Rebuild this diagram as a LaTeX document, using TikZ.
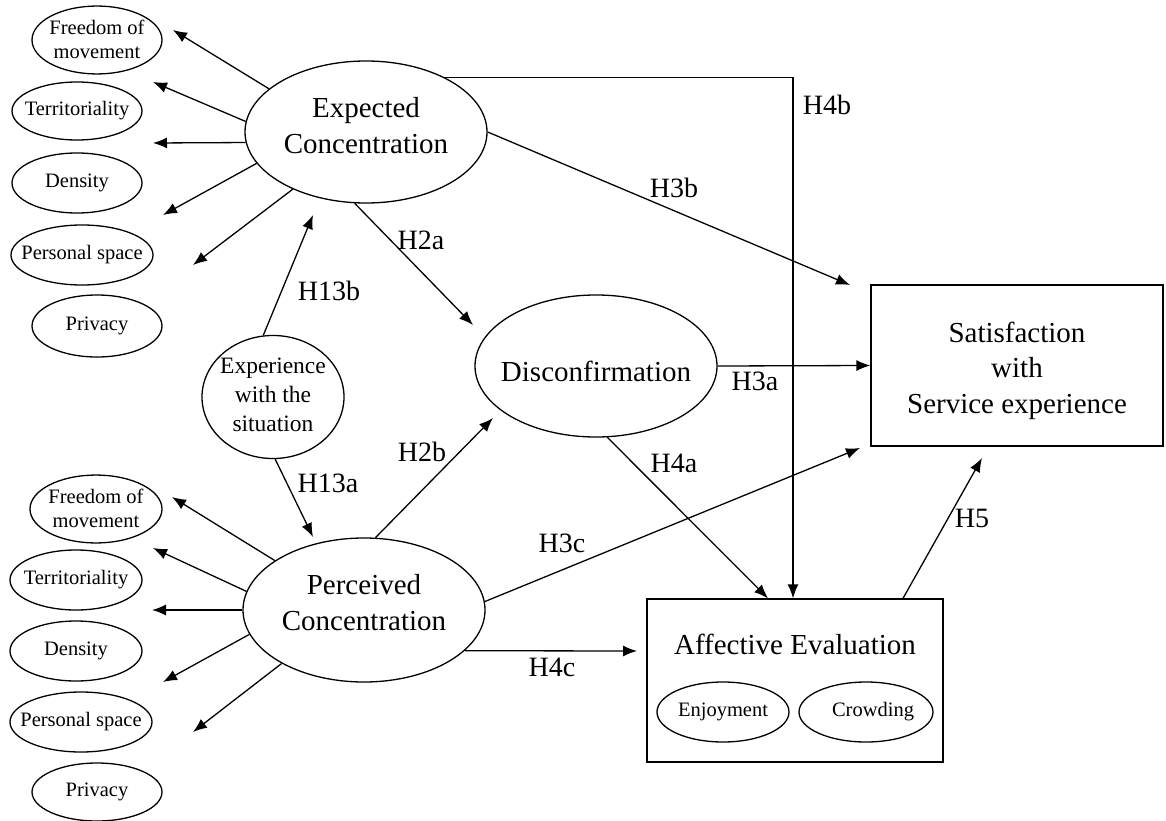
\documentclass[tikz,border=0pt]{standalone}
\usepackage{fontspec}
\setmainfont{Liberation Serif}
\usetikzlibrary{shapes.geometric,arrows.meta}
% centred multi-line text of zero width, optionally raised without changing its extent
\newcommand{\mlines}[2][0pt]{\makebox[0pt]{\raisebox{#1}[\height][\depth]{\begin{tabular}{@{}c@{}}#2\end{tabular}}}}
\begin{document}
\begin{tikzpicture}[x=1pt,y=-1pt,
  oval/.style={ellipse,draw,line width=1.3pt,inner sep=0pt},
  box/.style={rectangle,draw,line width=1.3pt,inner sep=0pt},
  bigfont/.style={font=\fontsize{29}{36}\selectfont},
  midfont/.style={font=\fontsize{23.5}{29}\selectfont},
  smallfont/.style={font=\fontsize{20.5}{24}\selectfont},
  hyp/.style={font=\fontsize{28}{32}\selectfont,inner sep=0pt},
  link/.style={line width=1.3pt,-{Latex[length=14pt,width=11pt]}}]
\useasboundingbox (0,0) rectangle (1166,821);

% dimension ellipses of the expected concentration
\node[oval,smallfont,minimum width=130pt,minimum height=60pt] (f1) at (97,40) {\mlines[-2pt]{Freedom of\\movement}};
\node[oval,smallfont,minimum width=130pt,minimum height=58pt] (t1) at (77,111) {\mlines{Territoriality}};
\node[oval,smallfont,minimum width=130pt,minimum height=60pt] (d1) at (77,183) {\mlines{Density}};
\node[oval,smallfont,minimum width=142pt,minimum height=60pt] (p1) at (82,255) {\mlines{Personal space}};
\node[oval,smallfont,minimum width=130pt,minimum height=62pt] (v1) at (97,326) {\mlines{Privacy}};

% dimension ellipses of the perceived concentration
\node[oval,smallfont,minimum width=132pt,minimum height=60pt] (f2) at (96,509) {\mlines[-2pt]{Freedom of\\movement}};
\node[oval,smallfont,minimum width=132pt,minimum height=60pt] (t2) at (76,580) {\mlines{Territoriality}};
\node[oval,smallfont,minimum width=132pt,minimum height=60pt] (d2) at (76,651) {\mlines{Density}};
\node[oval,smallfont,minimum width=142pt,minimum height=60pt] (p2) at (81,722) {\mlines{Personal space}};
\node[oval,smallfont,minimum width=130pt,minimum height=58pt] (v2) at (97,792) {\mlines{Privacy}};

% main constructs
\node[oval,bigfont,minimum width=242pt,minimum height=142pt] (ec) at (366,132) {\mlines[4pt]{Expected\\Concentration}};
\node[oval,bigfont,minimum width=242pt,minimum height=144pt] (pc) at (364,610) {\mlines[4.5pt]{Perceived\\Concentration}};
\node[oval,bigfont,minimum width=242pt,minimum height=142pt] (dc) at (596,366) {\mlines[-8pt]{Disconfirmation}};
\node[oval,midfont,minimum width=142pt,minimum height=120pt] (ex) at (273,397) {\mlines{Experience\\with the\\situation}};
\node[box,font=\fontsize{29}{35.5}\selectfont,minimum width=292pt,minimum height=161pt] (sat) at (1017,365.5) {\mlines[-5pt]{Satisfaction\\with\\Service experience}};
\node[box,bigfont,minimum width=296pt,minimum height=163pt] (aff) at (795,680.5) {\mlines[33pt]{Affective Evaluation}};
\node[oval,smallfont,minimum width=132pt,minimum height=60pt] (enj) at (723,712) {\mlines{Enjoyment}};
\node[oval,smallfont,minimum width=134pt,minimum height=60pt] (crw) at (866,712) {\mlines{\hspace*{14pt}Crowding}};

% free ends of the arrows
\coordinate (ta1) at (173,30);
\coordinate (ta2) at (153,82);
\coordinate (ta3) at (153,143);
\coordinate (ta4) at (163,215);
\coordinate (ta5) at (193,265);
\coordinate (tb1) at (172,497);
\coordinate (tb2) at (153,548);
\coordinate (tb3) at (152,610);
\coordinate (tb4) at (163,682);
\coordinate (tb5) at (193,732);
\coordinate (h13b) at (313,215);
\coordinate (h13a) at (313,537);
\coordinate (h2a) at (473,325);
\coordinate (h2b) at (493,418);
\coordinate (h3b) at (850,285);
\coordinate (h3c) at (860,448);
\coordinate (h4c) at (637,651);
\coordinate (h5) at (982,458);

% measurement arrows
\draw[link] (ec.156) -- (ta1);
\draw[link] (ec.175) -- (ta2);
\draw[link] (ec.185) -- (ta3);
\draw[link] (ec.196) -- (ta4);
\draw[link] (ec.218) -- (ta5);
\draw[link] (pc.151) -- (tb1);
\draw[link] (pc.171) -- (tb2);
\draw[link] (pc.180) -- (tb3);
\draw[link] (pc.192) -- (tb4);
\draw[link] (pc.213) -- (tb5);

% hypothesised paths
\draw[link] (ex.99) -- (h13b);
\draw[link] (ex.272) -- (h13a);
\draw[link] (ec.261) -- (h2a);
\draw[link] (pc.81) -- (h2b);
\draw[link] (ec.east) -- (h3b);
\draw[link] (dc.east) -- (sat.west);
\draw[link] (pc.4.7) -- (h3c);
\draw[link] (dc.279) -- ([xshift=-27pt]aff.north);
\draw[link] (ec.35) -| ([xshift=-2pt]aff.north);
\draw[link] (pc.338) -- (h4c);
\draw[link] ([xshift=108pt]aff.north) -- (h5);

% path labels
\node[hyp] (l2a) at (421,240) {H2a};
\node[hyp] (l13b) at (329,291) {H13b};
\node[hyp] (l13a) at (328,483) {H13a};
\node[hyp] (l2b) at (422,452) {H2b};
\node[hyp] (l3b) at (674,188) {H3b};
\node[hyp] (l4b) at (827,105) {H4b};
\node[hyp] (l3a) at (755,381) {H3a};
\node[hyp] (l4a) at (674,463) {H4a};
\node[hyp] (l3c) at (562,543) {H3c};
\node[hyp] (l4c) at (552,667) {H4c};
\node[hyp] (l5) at (972,518) {H5};
\end{tikzpicture}
\end{document}
